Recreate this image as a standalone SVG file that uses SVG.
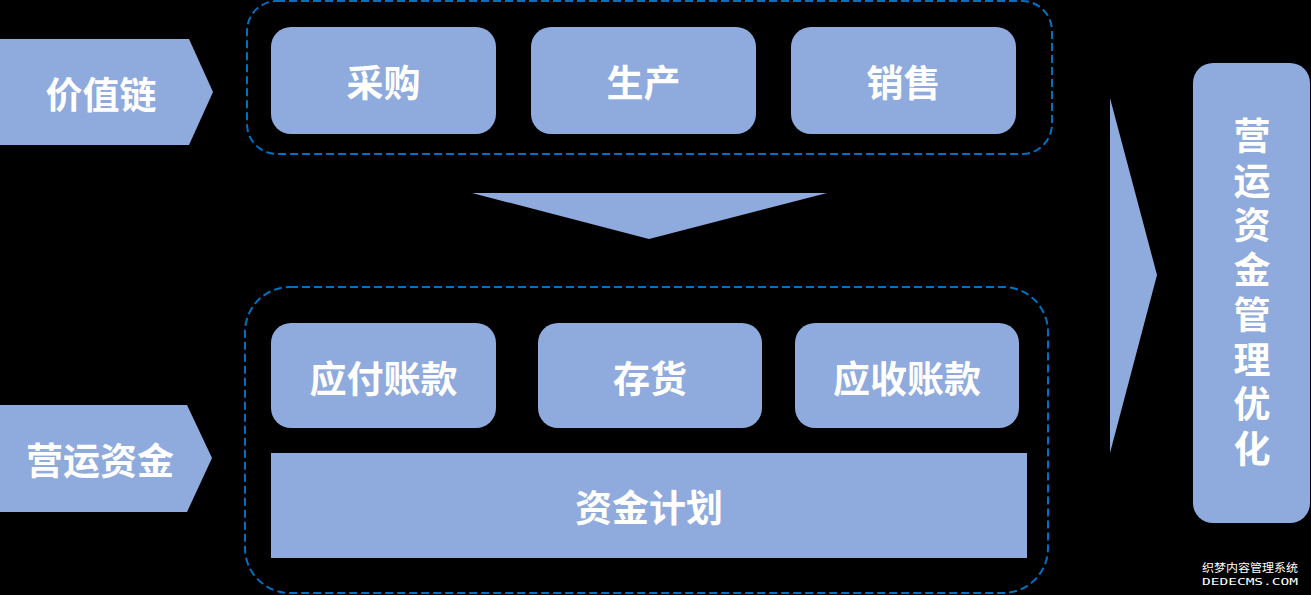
<svg xmlns="http://www.w3.org/2000/svg" width="1311" height="595" viewBox="0 0 1311 595">
<style>
.f{fill:#8FAADC}
.d{fill:none;stroke:#0070C0;stroke-width:2;stroke-dasharray:8 4}
.t{fill:#FFFFFF;font-family:"Noto Sans CJK SC","Noto Sans CJK JP",sans-serif;font-weight:bold;font-size:37px;text-anchor:middle;dominant-baseline:central}
.v{fill:#FFFFFF;font-family:"Noto Sans CJK SC","Noto Sans CJK JP",sans-serif;font-weight:bold;font-size:37px;writing-mode:vertical-rl;letter-spacing:7.7px}
.w{fill:#FFFFFF;font-family:"Noto Sans CJK SC",sans-serif;font-size:11px}
.m{fill:#FFFFFF;font-family:"DejaVu Sans Mono",monospace;font-size:9px}
</style>
<rect x="0" y="0" width="1311" height="595" fill="#000000"/>
<g id="groups">
<rect id="value-chain-frame" class="d" x="247" y="1" width="805" height="153" rx="30"/>
<rect id="working-capital-frame" class="d" x="245" y="287" width="803" height="306" rx="45"/>
</g>
<g id="connectors">
<polygon class="f" points="472,193 827,193 649,239"/>
<polygon class="f" points="1110,98 1157,275 1110,453"/>
</g>
<g id="value-chain">
<polygon class="f" points="0,39 189,39 213,92 189,145 0,145"/>
<text class="t" x="101" y="93">价值链</text>
</g>
<g id="working-capital">
<polygon class="f" points="0,405 187,405 212,458 187,512 0,512"/>
<text class="t" x="100" y="459">营运资金</text>
</g>
<g id="purchase">
<rect class="f" x="271" y="27" width="225" height="107" rx="20"/>
<text class="t" x="383.5" y="81">采购</text>
</g>
<g id="production">
<rect class="f" x="531" y="27" width="225" height="107" rx="20"/>
<text class="t" x="643.5" y="81">生产</text>
</g>
<g id="sales">
<rect class="f" x="791" y="27" width="225" height="107" rx="20"/>
<text class="t" x="903.5" y="81">销售</text>
</g>
<g id="payables">
<rect class="f" x="271" y="323" width="225" height="105" rx="20"/>
<text class="t" x="383.5" y="377">应付账款</text>
</g>
<g id="inventory">
<rect class="f" x="538" y="323" width="224" height="105" rx="20"/>
<text class="t" x="650" y="377">存货</text>
</g>
<g id="receivables">
<rect class="f" x="795" y="323" width="224" height="105" rx="20"/>
<text class="t" x="907" y="377">应收账款</text>
</g>
<g id="cash-plan">
<rect class="f" x="271" y="453" width="756" height="105"/>
<text class="t" x="649" y="506">资金计划</text>
</g>
<g id="optimization">
<rect class="f" x="1193" y="63" width="117" height="460" rx="20"/>
<text class="v" x="1252" y="117.5">营运资金管理优化</text>
</g>
<g id="watermark">
<text class="w" x="1202" y="572" textLength="96" lengthAdjust="spacingAndGlyphs">织梦内容管理系统</text>
<text class="m" x="1202" y="585" textLength="96" lengthAdjust="spacingAndGlyphs">DEDECMS.COM</text>
</g>
</svg>
